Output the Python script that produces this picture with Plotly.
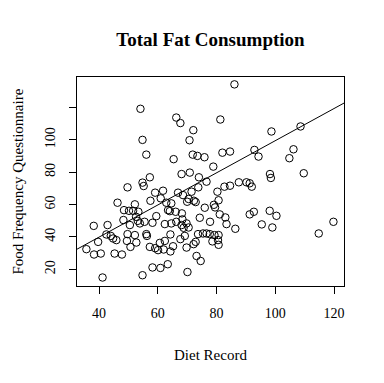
import plotly.graph_objects as go

# Diet Record (x) vs Food Frequency Questionnaire (y), total fat
diet_record = [
    54.1, 66.3, 67.7, 72.1, 54.8, 70.8, 56.1, 65.4, 71.9, 73.5, 75.9, 86.1, 81.3, 98.7, 108.6,
    82.0, 84.6, 92.9, 94.3, 106.2, 104.8, 78.9,
    98.2, 98.5, 109.7, 87.6, 90.2, 91.3, 92.0, 82.7, 84.6, 80.3, 68.1, 70.9, 74.0, 57.3, 54.8,
    55.2, 49.7, 61.8, 59.1, 66.9, 68.6, 71.5, 70.5, 72.3, 76.6, 61.0, 57.5, 46.3, 52.2, 62.9,
    64.6, 70.0, 72.9, 80.7, 73.8,
    48.5, 50.2, 51.6, 53.4, 63.5, 64.1, 66.1, 68.2, 76.0, 59.5, 48.3, 50.5, 52.6, 53.2, 53.9,
    55.5, 58.2, 62.4, 64.6, 66.3, 68.4, 68.1, 68.8, 69.8, 70.5, 74.3, 77.8, 38.2, 42.9,
    79.1, 79.5, 81.1, 83.0, 91.3, 92.7, 98.1, 100.4, 83.4, 86.4, 95.4, 99.0, 119.8, 114.8,
    75.4, 76.6, 77.7, 79.3, 80.7, 78.6, 80.5, 80.7, 74.6, 42.5, 44.0, 44.8, 45.9, 39.7, 49.5,
    52.2, 52.7, 49.7, 56.1, 56.3, 60.7, 62.4, 64.3, 67.7, 69.2, 73.7, 50.7, 57.3, 60.1, 62.0,
    64.3, 65.2, 69.8, 72.2, 72.9, 35.7, 38.3, 40.6, 45.3, 47.8, 73.2, 58.2, 60.9, 63.4, 54.8,
    70.1, 41.2, 59.1,
]
food_freq = [
    119.1, 113.7, 110.3, 105.9, 99.9, 99.7, 90.8, 88.0, 90.8, 90.0, 89.2, 134.2, 112.5, 105.1, 108.2,
    92.0, 92.7, 93.7, 89.6, 94.1, 88.6, 83.4,
    78.8, 76.4, 79.3, 73.7, 73.7, 73.1, 71.0, 71.0, 71.6, 67.9, 78.8, 79.7, 76.8, 76.8, 73.5,
    71.4, 70.6, 68.5, 67.3, 67.3, 65.8, 67.9, 63.4, 62.3, 74.1, 63.8, 62.3, 61.1, 60.1, 61.1,
    60.7, 61.7, 61.5, 62.6, 70.6,
    56.5, 56.1, 56.1, 55.5, 56.5, 55.9, 55.5, 54.5, 58.0, 52.8, 50.4, 47.3, 52.4, 49.9, 48.3,
    49.3, 48.7, 47.9, 48.3, 49.3, 50.8, 47.3, 45.6, 48.3, 45.8, 51.8, 49.3, 46.8, 47.3,
    59.8, 58.2, 53.9, 52.0, 53.9, 55.5, 56.1, 53.0, 47.9, 45.0, 47.7, 45.8, 49.3, 42.1,
    42.1, 42.1, 41.7, 41.1, 41.1, 37.2, 38.0, 35.1, 25.1, 41.5, 40.6, 39.0, 38.0, 36.9, 37.5,
    41.1, 36.5, 41.7, 41.7, 40.6, 36.3, 37.5, 41.5, 38.6, 40.6, 41.7, 33.8, 33.8, 31.8, 32.2,
    31.0, 34.2, 33.4, 35.5, 36.9, 32.4, 29.1, 29.7, 29.7, 29.1, 28.2, 21.1, 20.8, 23.1, 16.3,
    18.3, 14.9, 33.0,
]

# least-squares line (abline) coefficients
fit_intercept = 0.11
fit_slope = 0.993

x_ticks = [40, 60, 80, 100, 120]
y_ticks = [20, 40, 60, 80, 100, 120]
y_tick_text = ["20", "40", "60", "80", "100", ""]

x_range = [32.5, 123.4]
y_range = [9.65, 138.75]

font_family = "Liberation Serif, Times New Roman, serif"

fig = go.Figure()
fig.add_trace(go.Scatter(
    x=diet_record, y=food_freq, mode="markers",
    marker=dict(symbol="circle-open", size=7.5, color="black", line=dict(width=1, color="black")),
    hoverinfo="x+y", showlegend=False,
))
line_x = x_range
line_y = [fit_intercept + fit_slope * v for v in line_x]
fig.add_trace(go.Scatter(
    x=line_x, y=line_y, mode="lines",
    line=dict(color="black", width=1), showlegend=False, hoverinfo="skip",
))

axis_common = dict(
    showline=True, mirror=True, linecolor="black", linewidth=1,
    ticks="outside", ticklen=7, tickcolor="black", tickwidth=1,
    showgrid=False, zeroline=False,
    tickfont=dict(family=font_family, size=14, color="black"),
)

W, H = 376, 375
fig.update_layout(
    width=W, height=H,
    margin=dict(l=69, r=40, t=69, b=97),
    paper_bgcolor="white", plot_bgcolor="white",
    font=dict(family=font_family, color="black"),
    title=dict(
        text="<b>Total Fat Consumption</b>",
        x=0.5, xref="paper", xanchor="center",
        y=1 - 31 / H, yref="container", yanchor="middle",
        font=dict(family=font_family, size=19, color="black"),
    ),
    xaxis=dict(range=x_range, tickvals=x_ticks, ticklabelstandoff=7, **axis_common),
    yaxis=dict(range=y_range, tickvals=y_ticks, ticktext=y_tick_text, tickangle=-90,
               ticklabelstandoff=8, **axis_common),
    annotations=[
        dict(text="Diet Record", xref="paper", yref="paper", x=0.5, y=0,
             xanchor="center", yanchor="middle", yshift=-69, showarrow=False,
             font=dict(family=font_family, size=15, color="black")),
        dict(text="Food Frequency Questionnaire", xref="paper", yref="paper", x=0, y=0.5,
             xanchor="center", yanchor="middle", xshift=-60, textangle=-90, showarrow=False,
             font=dict(family=font_family, size=15, color="black")),
    ],
)

fig.write_html("out.html")
